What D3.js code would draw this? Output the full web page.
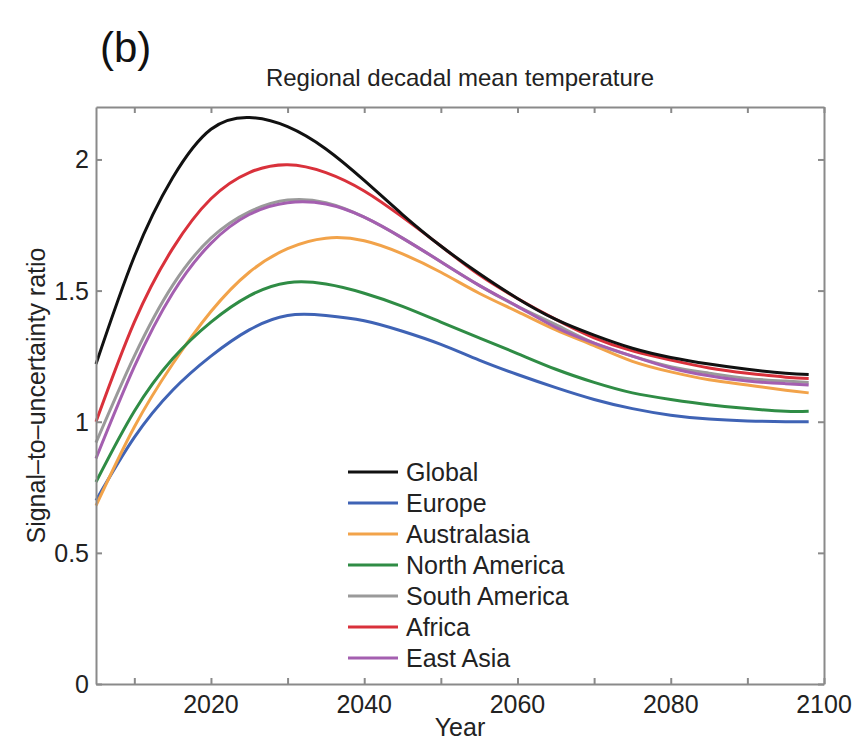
<!DOCTYPE html>
<html>
<head>
<meta charset="utf-8">
<script src="https://cdn.jsdelivr.net/npm/d3@7"></script>
<style>
  body { margin: 0; background: #fff; }
  svg { display: block; font-family: "Liberation Sans", Arial, sans-serif; }
</style>
</head>
<body>
<div class="container"></div>
<script>
const width = 868;
const height = 742;

// decadal mean years
const years = [2005, 2010, 2015, 2020, 2025, 2030, 2035, 2040, 2045, 2050,
               2055, 2060, 2065, 2070, 2075, 2080, 2085, 2090, 2095, 2098];

const regions = ['Global', 'Europe', 'Australasia', 'North America', 'South America', 'Africa', 'East Asia'];
const colors = ['#111111', '#3f63b5', '#f2a34a', '#2f8c45', '#9a9a9a', '#d9313b', '#a45fb0'];

const globalVals   = [1.22, 1.63, 1.93, 2.115, 2.16, 2.125, 2.04, 1.92, 1.79, 1.67, 1.565, 1.47, 1.39, 1.33, 1.28, 1.245, 1.22, 1.20, 1.185, 1.18];
const europeVals   = [0.70, 0.94, 1.12, 1.25, 1.35, 1.405, 1.405, 1.385, 1.345, 1.295, 1.235, 1.18, 1.13, 1.085, 1.05, 1.025, 1.01, 1.003, 1.0, 1.0];
const australVals  = [0.68, 0.98, 1.22, 1.42, 1.57, 1.66, 1.70, 1.69, 1.64, 1.57, 1.49, 1.42, 1.35, 1.29, 1.23, 1.19, 1.16, 1.14, 1.12, 1.11];
const nAmericaVals = [0.77, 1.04, 1.24, 1.38, 1.48, 1.53, 1.525, 1.49, 1.44, 1.38, 1.32, 1.26, 1.20, 1.15, 1.11, 1.085, 1.065, 1.05, 1.04, 1.04];
const sAmericaVals = [0.92, 1.25, 1.52, 1.70, 1.80, 1.845, 1.835, 1.78, 1.70, 1.61, 1.52, 1.44, 1.37, 1.30, 1.25, 1.21, 1.185, 1.165, 1.155, 1.15];
const africaVals   = [1.00, 1.38, 1.66, 1.85, 1.95, 1.98, 1.95, 1.88, 1.78, 1.67, 1.56, 1.47, 1.39, 1.32, 1.27, 1.235, 1.205, 1.185, 1.17, 1.165];
const eAsiaVals    = [0.86, 1.21, 1.49, 1.68, 1.79, 1.835, 1.83, 1.78, 1.70, 1.61, 1.52, 1.44, 1.36, 1.30, 1.25, 1.205, 1.175, 1.155, 1.145, 1.14];

const seriesVals = [globalVals, europeVals, australVals, nAmericaVals, sAmericaVals, africaVals, eAsiaVals];

const yTicks = [0, 0.5, 1, 1.5, 2];
const xTicks = [2010, 2020, 2030, 2040, 2050, 2060, 2070, 2080, 2090, 2100];
const xLabels = [2020, 2040, 2060, 2080, 2100];

const margin = {left: 96, right: 44, top: 107, bottom: 58};

const svg = d3.select('.container')
    .append('svg')
    .attr('width', width)
    .attr('height', height);

let x = d3.scaleLinear()
    .domain([2005, 2100])
    .range([margin.left, width - margin.right]);

let y = d3.scaleLinear()
    .domain([0, 2.2])
    .range([height - margin.bottom, margin.top]);

const axisColor = '#8a8a8a';
const fontSize = 25;

//Panel letter and title
svg.append('text')
    .attr('x', 100)
    .attr('y', 62)
    .attr('font-size', 42)
    .attr('fill', '#111')
    .text('(b)');

svg.append('text')
    .attr('x', (x.range()[0] + x.range()[1]) / 2)
    .attr('y', 86)
    .attr('text-anchor', 'middle')
    .attr('font-size', 24)
    .attr('fill', '#222')
    .text('Regional decadal mean temperature');

//Lines
let line = d3.line()
    .x((d, i) => x(years[i]))
    .y(d => y(d))
    .curve(d3.curveNatural);

// draw order: lower curves first, global on top
const drawOrder = [1, 2, 3, 4, 6, 5, 0];
svg.append('g')
    .selectAll('path')
    .data(drawOrder)
    .enter()
    .append('path')
    .attr('d', i => line(seriesVals[i]))
    .attr('fill', 'none')
    .attr('stroke', i => colors[i])
    .attr('stroke-width', 3);

//Axes box (MATLAB style, ticks inward on all sides)
const axG = svg.append('g');

axG.append('g')
    .attr('transform', 'translate(0,' + y(0) + ')')
    .call(d3.axisBottom(x).tickValues(xTicks).tickSizeInner(-6).tickSizeOuter(0).tickFormat(''));
axG.append('g')
    .attr('transform', 'translate(0,' + y(2.2) + ')')
    .call(d3.axisTop(x).tickValues(xTicks).tickSizeInner(-6).tickSizeOuter(0).tickFormat(''));
axG.append('g')
    .attr('transform', 'translate(' + x(2005) + ',0)')
    .call(d3.axisLeft(y).tickValues(yTicks).tickSizeInner(-6).tickSizeOuter(0).tickFormat(''));
axG.append('g')
    .attr('transform', 'translate(' + x(2100) + ',0)')
    .call(d3.axisRight(y).tickValues(yTicks).tickSizeInner(-6).tickSizeOuter(0).tickFormat(''));

axG.selectAll('path.domain, line')
    .attr('stroke', axisColor)
    .attr('stroke-width', 2);

//Tick labels
svg.append('g')
    .selectAll('text')
    .data(xLabels)
    .enter()
    .append('text')
    .attr('x', d => x(d))
    .attr('y', 713)
    .attr('text-anchor', 'middle')
    .attr('font-size', fontSize)
    .attr('fill', '#222')
    .text(d => d);

svg.append('g')
    .selectAll('text')
    .data(yTicks)
    .enter()
    .append('text')
    .attr('x', 89)
    .attr('y', d => y(d) + 9)
    .attr('text-anchor', 'end')
    .attr('font-size', fontSize)
    .attr('fill', '#222')
    .text(d => d);

//Axis titles
svg.append('text')
    .attr('x', (x.range()[0] + x.range()[1]) / 2)
    .attr('y', 736)
    .attr('text-anchor', 'middle')
    .attr('font-size', fontSize)
    .attr('fill', '#222')
    .text('Year');

svg.append('text')
    .attr('transform', 'translate(45,' + (y(0) + y(2.2)) / 2 + ') rotate(-90)')
    .attr('text-anchor', 'middle')
    .attr('font-size', fontSize)
    .attr('fill', '#222')
    .text('Signal–to–uncertainty ratio');

//Legend
const legend = svg.append('g')
    .selectAll('g')
    .data(regions)
    .enter()
    .append('g')
    .attr('transform', (d, i) => 'translate(348,' + (472 + i * 31) + ')');

legend.append('line')
    .attr('x1', 0)
    .attr('x2', 50)
    .attr('stroke', (d, i) => colors[i])
    .attr('stroke-width', 3);

legend.append('text')
    .attr('x', 58)
    .attr('y', 9)
    .attr('font-size', fontSize)
    .attr('fill', '#222')
    .text(d => d);
</script>
</body>
</html>
